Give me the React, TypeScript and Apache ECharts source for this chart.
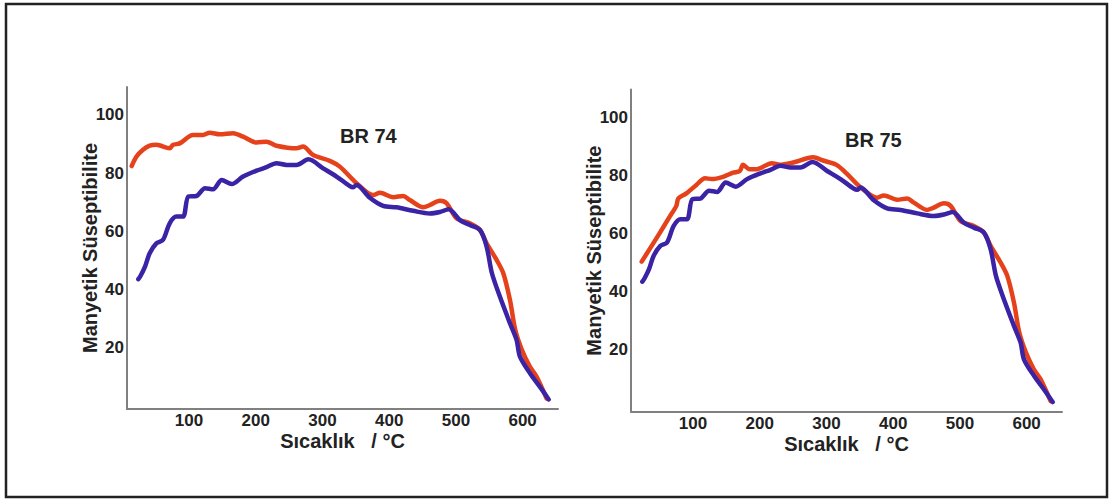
import React, { useEffect, useRef } from "react";
import * as echarts from "echarts";

// Temperature (°C), susceptibility pairs
const redBR74: [number, number][] = [
  [14, 82.4], [21, 85.6], [31, 88], [41, 89.4], [51, 89.7], [71, 88.5], [76, 89.7], [86, 90.2],
  [106, 93.1], [121, 93.1], [131, 93.9], [146, 93.3], [166, 93.7], [181, 92.5], [201, 90.5],
  [216, 90.8], [231, 89.4], [261, 88.5], [271, 89.1], [286, 86.2], [311, 84.2], [326, 82.2],
  [351, 76.5], [376, 72.4], [386, 73.2], [406, 71.7], [421, 72.1], [431, 70.7], [451, 68.2],
  [461, 69], [476, 70.5], [486, 69.6], [501, 64.4], [521, 62.7], [536, 60.4], [546, 55.8],
  [561, 50.1], [571, 45.5], [581, 36.3], [589, 26], [599, 19.1], [611, 13.3], [621, 9.9], [636, 2.4],
];

const redBR75: [number, number][] = [
  [23, 50.4], [31, 53.3], [50, 60.2], [65, 65.9], [75, 69.6], [78, 72.2], [90, 73.9], [105, 76.8],
  [118, 79.1], [128, 78.8], [145, 79.6], [160, 81], [170, 81.6], [175, 83.7], [185, 82.2],
  [195, 82.2], [218, 84.3], [230, 83.7], [250, 84.5], [280, 86.3], [295, 85.2], [315, 83.7],
  [330, 80.8], [350, 76.2], [376, 72.4], [386, 73.2], [406, 71.7], [421, 72.1], [431, 70.7],
  [451, 68.2], [461, 69], [476, 70.5], [486, 69.6], [501, 64.4], [521, 62.7], [536, 60.4],
  [546, 55.8], [561, 50.1], [571, 45.5], [581, 36.3], [589, 26], [599, 19.1], [611, 13.3],
  [621, 9.9], [636, 2.4],
];

const blueBR74: [number, number][] = [
  [24, 43.5], [27, 44.5], [34, 47.8], [41, 52.4], [51, 55.8], [61, 57], [71, 62.7], [81, 65],
  [91, 65], [99, 71.9], [111, 72.1], [124, 74.8], [136, 74.4], [149, 77.6], [164, 76.2],
  [181, 78.8], [201, 80.8], [216, 82], [231, 83.4], [246, 82.8], [261, 82.8], [279, 84.7],
  [301, 81.6], [321, 78.8], [341, 75.5], [346, 75.1], [351, 75.9], [371, 71.5], [391, 68.7],
  [411, 68.2], [436, 67], [461, 66.1], [476, 66.6], [489, 67.5], [506, 63.8], [521, 62.1],
  [536, 60.4], [546, 54.7], [554, 45.5], [566, 37.4], [581, 28.3], [591, 22.5], [596, 16.8],
  [611, 11.1], [626, 6.4], [639, 2.1],
];

const blueBR75: [number, number][] = blueBR74.map((p) => [p[0], p[1]] as [number, number]);

const xTicks = [100, 200, 300, 400, 500, 600];
const yTicks = [20, 40, 60, 80, 100];
const titles = ["BR 74", "BR 75"];
const xName = "Sıcaklık   / °C";
const yName = "Manyetik Süseptibilite";

const RED = "#e5421b";
const BLUE = "#3a23a4";
const FONT = "'Liberation Sans', Arial, sans-serif";

export default function App() {
  const ref = useRef<HTMLDivElement>(null);
  useEffect(() => {
    if (!ref.current) return;
    const chart = echarts.init(ref.current, null, { renderer: "svg" });
    const grids = [
      { left: 127, top: 87, width: 431, height: 322 },
      { left: 631, top: 89.6, width: 431, height: 322 },
    ];
    const nameStyle = { fontFamily: FONT, fontWeight: "bold", fontSize: 20, color: "#222" };
    const labelStyle = { fontFamily: FONT, fontWeight: "bold", fontSize: 17, color: "#222" };
    const xAxes = grids.map((_, i) => ({
      type: "value",
      gridIndex: i,
      min: 7,
      max: 653,
      name: xName,
      nameLocation: "middle",
      nameGap: 22,
      nameMoveOverlap: false,
      nameTextStyle: { ...nameStyle, lineHeight: 20 },
      axisLine: { show: true, onZero: false, lineStyle: { color: "#808080", width: 2 } },
      axisTick: { show: false },
      splitLine: { show: false },
      axisLabel: { customValues: xTicks, margin: 3, lineHeight: 17, ...labelStyle },
    }));
    const yAxes = grids.map((_, i) => ({
      type: "value",
      gridIndex: i,
      min: -1.2,
      max: 109.6,
      name: yName,
      nameLocation: "middle",
      nameGap: 27,
      nameMoveOverlap: false,
      nameTextStyle: nameStyle,
      axisLine: { show: true, onZero: false, lineStyle: { color: "#808080", width: 2 } },
      axisTick: { show: false },
      splitLine: { show: false },
      axisLabel: { customValues: yTicks, margin: 3, ...labelStyle },
    }));
    const mk = (data: [number, number][], color: string, i: number) => ({
      type: "line",
      xAxisIndex: i,
      yAxisIndex: i,
      data,
      smooth: 0.3,
      showSymbol: false,
      symbol: "none",
      lineStyle: { color, width: 4.5, cap: "round", join: "round" },
    });
    chart.setOption({
      animation: false,
      backgroundColor: "#ffffff",
      title: [
        { text: titles[0], left: 340, top: 126, padding: 0, textStyle: nameStyle },
        { text: titles[1], left: 845, top: 130, padding: 0, textStyle: nameStyle },
      ],
      grid: grids,
      xAxis: xAxes,
      yAxis: yAxes,
      series: [
        mk(redBR74, RED, 0),
        mk(blueBR74, BLUE, 0),
        mk(redBR75, RED, 1),
        mk(blueBR75, BLUE, 1),
      ],
      graphic: [
        {
          type: "rect",
          shape: { x: 6, y: 4, width: 1101, height: 493 },
          style: { fill: "none", stroke: "#222", lineWidth: 2.5 },
          silent: true,
        },
      ],
    });
    return () => chart.dispose();
  }, []);
  return (
    <div
      ref={ref}
      style={{ position: "fixed", left: 0, top: 0, width: 1112, height: 500, background: "#fff" }}
    />
  );
}
